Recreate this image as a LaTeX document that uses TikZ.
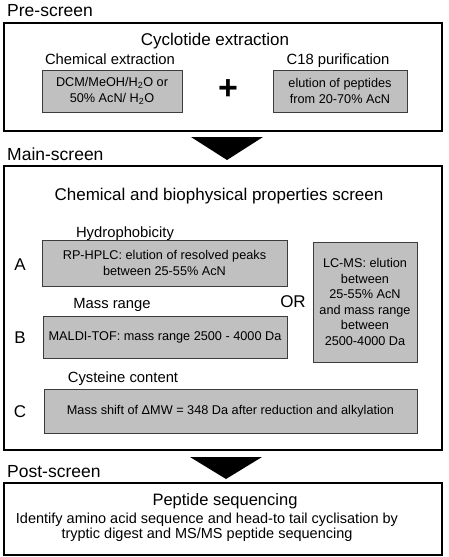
\documentclass[tikz,border=0pt]{standalone}
\usepackage{fontspec}
\setmainfont{Liberation Sans}
\usetikzlibrary{positioning}
\definecolor{boxgray}{RGB}{192,192,192}
\definecolor{boxline}{RGB}{60,60,60}

\begin{document}
\begin{tikzpicture}[x=1pt,y=-1pt]
\tikzstyle{every node}+=[inner sep=0pt]
\tikzstyle{stage}=[draw, line width=2pt]
\tikzstyle{stagelabel}=[anchor=base west, font=\fontsize{17.5}{20}\selectfont]
\tikzstyle{title}=[anchor=base, font=\fontsize{17}{20}\selectfont]
\tikzstyle{sublabel}=[anchor=base, font=\fontsize{14.8}{17}\selectfont]
\tikzstyle{letter}=[anchor=base, font=\fontsize{17}{20}\selectfont]
\tikzstyle{method}=[draw=boxline, line width=1pt, fill=boxgray, align=center, font=\fontsize{12.7}{15.5}\selectfont]
\useasboundingbox (0,0) rectangle (448,557);
\node [stagelabel] (prelabel) at (7,16) {Pre-screen};
\node [stage, minimum width=438.5pt, minimum height=108pt] (pre) at (222.75,77) {};
\node [title] (extraction) at (215,45) {Cyclotide extraction};
\node [sublabel] (chemlabel) at (110,64) {Chemical extraction};
\node [sublabel] (c18label) at (338,64) {C18 purification};
\node [method, minimum width=140pt, minimum height=42pt] (chem) at (112,91) {DCM/MeOH/H\textsubscript{2}O or\\50\% AcN/ H\textsubscript{2}O};
\node [method, minimum width=134pt, minimum height=42pt] (c18) at (340,91) {elution of peptides\\from 20-70\% AcN};
\node [font=\bfseries\fontsize{34}{34}\selectfont] (plus) at (228,90) {+};
\fill (191,137) -- (263,137) -- (227,160) -- cycle;
\node [stagelabel] (mainlabel) at (7,160) {Main-screen};
\node [stage, minimum width=438.5pt, minimum height=284pt] (main) at (222.75,308) {};
\node [title] (properties) at (219,200) {Chemical and biophysical properties screen};
\node [sublabel] (hydrolabel) at (125,237) {Hydrophobicity};
\node [letter] (A) at (20,270) {A};
\node [method, minimum width=245pt, minimum height=46pt] (hplc) at (164.5,263) {RP-HPLC: elution of resolved peaks\\between 25-55\% AcN};
\node [sublabel] (masslabel) at (112,308) {Mass range};
\node [letter] (OR) at (293,307) {OR};
\node [letter] (B) at (20,343) {B};
\node [method, minimum width=244pt, minimum height=42pt] (maldi) at (165,337) {MALDI-TOF: mass range 2500 - 4000 Da};
\node [method, minimum width=104pt, minimum height=120pt] (lcms) at (365,302) {LC-MS: elution\\between\\25-55\% AcN\\and mass range\\between\\2500-4000 Da};
\node [sublabel] (cyslabel) at (123,382) {Cysteine content};
\node [letter] (C) at (20,417) {C};
\node [method, minimum width=373pt, minimum height=44pt] (shift) at (230.5,411) {Mass shift of ΔMW = 348 Da after reduction and alkylation};
\fill (190,457) -- (262,457) -- (226,479) -- cycle;
\node [stagelabel] (postlabel) at (7,477) {Post-screen};
\node [stage, minimum width=438.5pt, minimum height=72pt] (post) at (222.75,519) {};
\node [title, font=\fontsize{16.5}{20}\selectfont] (sequencing) at (225,505) {Peptide sequencing};
\node [align=center, font=\fontsize{14.5}{14.5}\selectfont] (identify) at (207,527) {Identify amino acid sequence and head-to tail cyclisation by\\tryptic digest and MS/MS peptide sequencing};
\end{tikzpicture}
\end{document}
